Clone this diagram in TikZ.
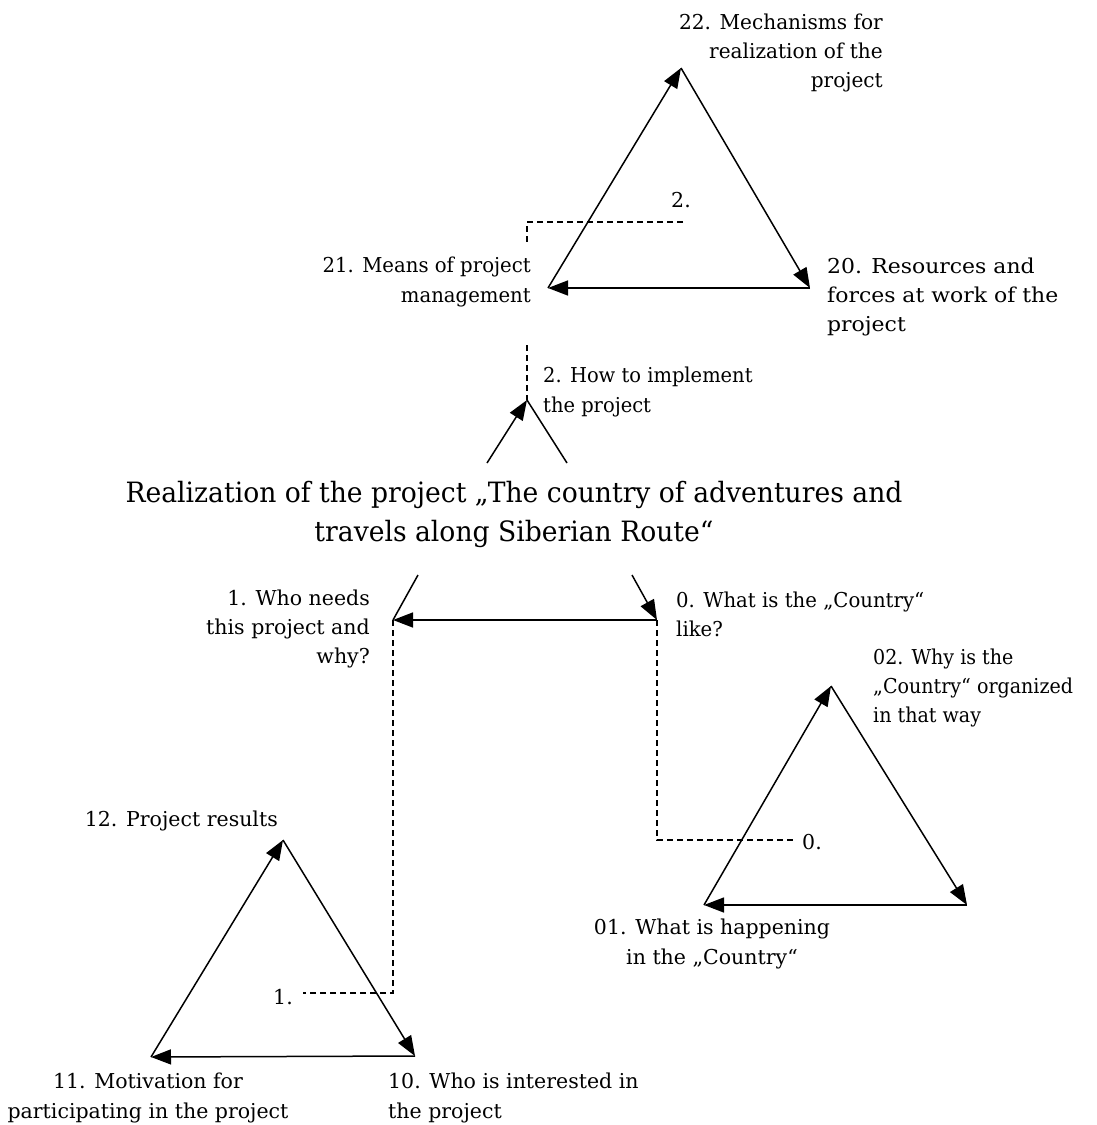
\documentclass[tikz,border=0pt]{standalone}
\usepackage{fontspec}
\setmainfont{DejaVu Serif}
\newfontfamily\titlefont[FakeStretch=0.95]{DejaVu Serif}
\newfontfamily\fsA[FakeStretch=0.93]{DejaVu Serif}
\newfontfamily\fsB[FakeStretch=0.95]{DejaVu Serif}
\newfontfamily\fsC[FakeStretch=0.96]{DejaVu Serif}
\newfontfamily\fsD[FakeStretch=0.98]{DejaVu Serif}
\newfontfamily\fsE[FakeStretch=1.07]{DejaVu Serif}
\usetikzlibrary{arrows.meta}
\tikzset{
  lbl/.style={inner sep=0pt, font=\fontsize{20.5}{29.3}\selectfont},
  ttl/.style={inner sep=0pt, align=center, font=\titlefont\fontsize{28}{39}\selectfont},
  edge/.style={line width=1.5pt},
  arr/.style={edge, -{Triangle[length=20pt,width=15pt]}},
  dsh/.style={line width=1.3pt, dash pattern=on 6pt off 4pt},
}
\begin{document}
\begin{tikzpicture}[x=1pt,y=-1pt]
\useasboundingbox (0,0) rectangle (1096,1125);
% top triangle
\coordinate (A22) at (681,68);
\coordinate (A20) at (810,288);
\coordinate (A21) at (548,288);
\draw[arr] (A21) -- (A22);
\draw[arr] (A22) -- (A20);
\draw[arr] (A20) -- (A21);
\node[lbl, font=\fsD\fontsize{20.5}{29.3}\selectfont, anchor=east, align=right] (t22) at (883,53) {22. Mechanisms for\\realization of the\\project};
\node[lbl, font=\fsC\fontsize{20.5}{29.3}\selectfont, anchor=east, align=right] (t21) at (531,282) {21. Means of project\\management};
\node[lbl, font=\fsE\fontsize{20.5}{29.3}\selectfont, anchor=west, align=left] (t20) at (827,297) {20. Resources and\\forces at work of the\\project};
\node[lbl] (t2dot) at (681,200) {2.};
\coordinate (d2a) at (683,222);
\coordinate (d2b) at (527,242);
\coordinate (d2c) at (527,345);
\coordinate (J2) at (527,400);
\draw[dsh] (d2a) -| (d2b);
\draw[dsh] (d2c) -- (J2);
\node[lbl, font=\fsB\fontsize{20.5}{29.3}\selectfont, anchor=west, align=left] (thow) at (543,392) {2. How to implement\\the project};
\coordinate (v2l) at (487,463);
\coordinate (v2r) at (567,463);
\draw[arr] (v2l) -- (J2);
\draw[edge] (J2) -- (v2r);
% title
\node[ttl] (title) at (514,514) {Realization of the project „The country of adventures and\\travels along Siberian Route“};
% middle
\coordinate (L1) at (393,620);
\coordinate (R0) at (657,620);
\coordinate (sl) at (418,575);
\coordinate (sr) at (632,575);
\draw[edge] (sl) -- (L1);
\draw[arr] (sr) -- (R0);
\draw[arr] (R0) -- (L1);
\node[lbl, anchor=east, align=right] (t1) at (370,629) {1. Who needs\\this project and\\why?};
\node[lbl, font=\fsC\fontsize{20.5}{29.3}\selectfont, anchor=west, align=left] (t0) at (676,614) {0. What is the „Country“\\like?};
% right triangle
\coordinate (B02) at (831,686);
\coordinate (B00) at (967,905);
\coordinate (B01) at (704,905);
\draw[arr] (B01) -- (B02);
\draw[arr] (B02) -- (B00);
\draw[arr] (B00) -- (B01);
\node[lbl, font=\fsA\fontsize{20.5}{29.3}\selectfont, anchor=west, align=left] (t02) at (873,688) {02. Why is the\\„Country“ organized\\in that way};
\node[lbl, align=center] (t01) at (712,944) {01. What is happening\\in the „Country“};
\node[lbl] (t0dot) at (812,842) {0.};
\coordinate (d0) at (657,840);
\coordinate (d0e) at (795,840);
\draw[dsh] (R0) -- (d0) -- (d0e);
% left triangle
\coordinate (C12) at (283,840);
\coordinate (C10) at (415,1056);
\coordinate (C11) at (151,1057);
\draw[arr] (C11) -- (C12);
\draw[arr] (C12) -- (C10);
\draw[arr] (C10) -- (C11);
\node[lbl, anchor=east] (t12) at (278,821) {12. Project results};
\node[lbl] (t1dot) at (283,997) {1.};
\coordinate (d1) at (393,993);
\coordinate (d1e) at (303,993);
\draw[dsh] (L1) -- (d1) -- (d1e);
\node[lbl, align=center] (t11) at (148,1098) {11. Motivation for\\participating in the project};
\node[lbl, anchor=west, align=left] (t10) at (388,1098) {10. Who is interested in\\the project};
\end{tikzpicture}
\end{document}
